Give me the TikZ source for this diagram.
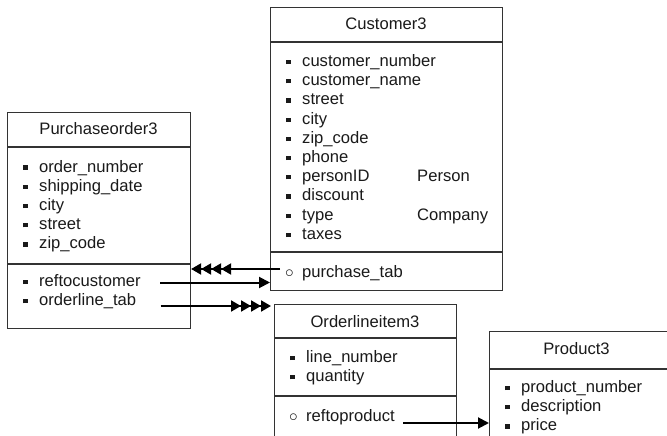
\documentclass[tikz,border=0pt]{standalone}
\usepackage{fontspec}
\setmainfont{Liberation Sans}
\usetikzlibrary{arrows.meta}
\definecolor{boxline}{HTML}{333333}
\definecolor{txt}{HTML}{1A1A1A}
\newcommand\sqb{\makebox[16pt][l]{\rule[2.3pt]{4.3pt}{4.3pt}}}
\newcommand\crc{\makebox[16pt][l]{\hspace*{-1pt}$\circ$}}
\tikzset{
  clsbox/.style={draw=boxline, line width=1.1pt, anchor=north west, inner sep=0pt},
  sepline/.style={draw=boxline, line width=1.1pt},
  ttl/.style={anchor=base, inner sep=0pt, text=txt, font=\fontsize{16.6}{19.2}\selectfont},
  attr/.style={anchor=base west, inner sep=0pt, text=txt, font=\fontsize{16.6}{19.2}\selectfont},
  arr/.style={line width=2pt, -{Triangle[length=11pt,width=11pt]}},
  quad/.style={line width=2pt, -{Triangle[length=10pt,width=11pt,sep=0pt] Triangle[length=10pt,width=11pt,sep=0pt] Triangle[length=10pt,width=11pt,sep=0pt] Triangle[length=10pt,width=11pt,sep=0pt]}}
}
\begin{document}
\begin{tikzpicture}[x=1pt,y=-1pt]
\useasboundingbox (0,0) rectangle (667,436);
\clip (0,0) rectangle (667,436);
\fill[white] (0,0) rectangle (667,436);

% Customer3
\node[clsbox, minimum width=232pt, minimum height=283pt] (cust) at (270,7) {};
\draw[sepline] (270,42) -- (502,42);
\draw[sepline] (270,252) -- (502,252);
\node[ttl] (custT) at (386,30) {Customer3};
\foreach \t [count=\i from 0] in {customer\_number,customer\_name,street,city,zip\_code,phone,personID,discount,type,taxes}
  \node[attr] (c\i) at (286,66.5+19.2*\i) {\sqb\t};
\node[attr] (cPerson) at (417,181.7) {Person};
\node[attr] (cCompany) at (417,220.1) {Company};
\node[attr] (cpt) at (286,277) {\crc purchase\_tab};

% Purchaseorder3
\node[clsbox, minimum width=183pt, minimum height=216pt] (po) at (7,112) {};
\draw[sepline] (7,147) -- (190,147);
\draw[sepline] (7,264) -- (190,264);
\node[ttl] (poT) at (98.5,135) {Purchaseorder3};
\foreach \t [count=\i from 0] in {order\_number,shipping\_date,city,street,zip\_code}
  \node[attr] (p\i) at (23,172+19.2*\i) {\sqb\t};
\node[attr] (pref) at (23,286.5) {\sqb reftocustomer};
\node[attr] (pol) at (23,305.7) {\sqb orderline\_tab};

% Orderlineitem3
\node[clsbox, minimum width=182pt, minimum height=160pt] (oli) at (274,304) {};
\draw[sepline] (274,338) -- (456,338);
\draw[sepline] (274,396) -- (456,396);
\node[ttl] (oliT) at (365,327) {Orderlineitem3};
\node[attr] (o0) at (290,362.5) {\sqb line\_number};
\node[attr] (o1) at (290,381.7) {\sqb quantity};
\node[attr] (oref) at (290,421) {\crc reftoproduct};

% Product3
\node[clsbox, minimum width=185pt, minimum height=140pt] (prod) at (489,331) {};
\draw[sepline] (489,369) -- (674,369);
\node[ttl] (prodT) at (576.5,354) {Product3};
\foreach \t [count=\i from 0] in {product\_number,description,price}
  \node[attr] (r\i) at (505,392.5+19.2*\i) {\sqb\t};

% connectors
\coordinate (a1s) at (280,269);
\coordinate (a1e) at (po.east |- a1s);
\draw[quad] (a1s) -- (a1e);
\coordinate (a2s) at (160,282.5);
\coordinate (a2e) at (cust.west |- a2s);
\draw[arr] (a2s) -- (a2e);
\coordinate (a3s) at (160.5,306);
\coordinate (a3e) at (271,306);
\draw[quad] (a3s) -- (a3e);
\coordinate (a4s) at (403,423);
\coordinate (a4e) at (prod.west |- a4s);
\draw[arr] (a4s) -- (a4e);
\end{tikzpicture}
\end{document}
